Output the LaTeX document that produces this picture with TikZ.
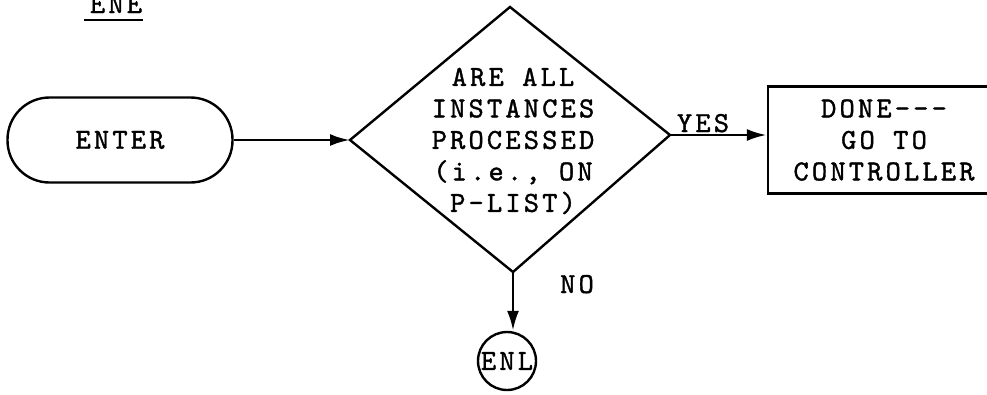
\documentclass[tikz,border=0pt]{standalone}
\usepackage{fontspec}
\newfontfamily\twf{lmmono10-regular}[Extension=.otf,LetterSpace=11,FakeBold=1.3]
\usetikzlibrary{arrows.meta}
\tikzset{
  tw/.style={font=\twf\fontsize{29}{31.5}\selectfont},
  ln/.style={line width=2.4pt},
  arr/.style={line width=2.8pt,-{Latex[length=20pt,width=12pt]}},
}
\begin{document}
\begin{tikzpicture}[x=1pt,y=-1pt]
\useasboundingbox (0,0) rectangle (987,394);
\clip (0,0) rectangle (987,394);
% title
\node[tw,anchor=base,inner sep=0] (ene) at (116,13) {ENE};
\draw[ln] (84,20) -- (143,20);
% enter terminal
\node[tw,draw,ln,rounded corners=42pt,minimum width=225pt,minimum height=85pt] (enter) at (120,140) {ENTER};
% diamond
\coordinate (dt) at (510,7);
\coordinate (dl) at (350,140);
\coordinate (dr) at (670,135);
\coordinate (db) at (513,272);
\draw[ln,line join=miter] (dt) -- (dr) -- (db) -- (dl) -- cycle;
\node[tw,align=center,inner sep=0] (q) at (513,141) {ARE ALL\\INSTANCES\\PROCESSED\\(i.e., ON\\P-LIST)};
% done box
\node[tw,draw,ln,align=center,minimum width=232pt,minimum height=107pt] (done) at (884,140) {DONE---\\GO TO\\CONTROLLER};
% end circle
\node[tw,draw,ln,circle,minimum size=58pt,inner sep=0] (enl) at (507,361) {\makebox[40pt]{ENL}};
% connectors
\draw[arr] (enter.east) -- (dl);
\draw[arr] (dr) -- (done.west |- dr);
\draw[arr] (db) -- (db |- enl.north);
% labels
\node[tw,anchor=base,inner sep=0] (yes) at (703,132) {YES};
\node[tw,anchor=base,inner sep=0] (no) at (577,293) {NO};
\end{tikzpicture}
\end{document}
